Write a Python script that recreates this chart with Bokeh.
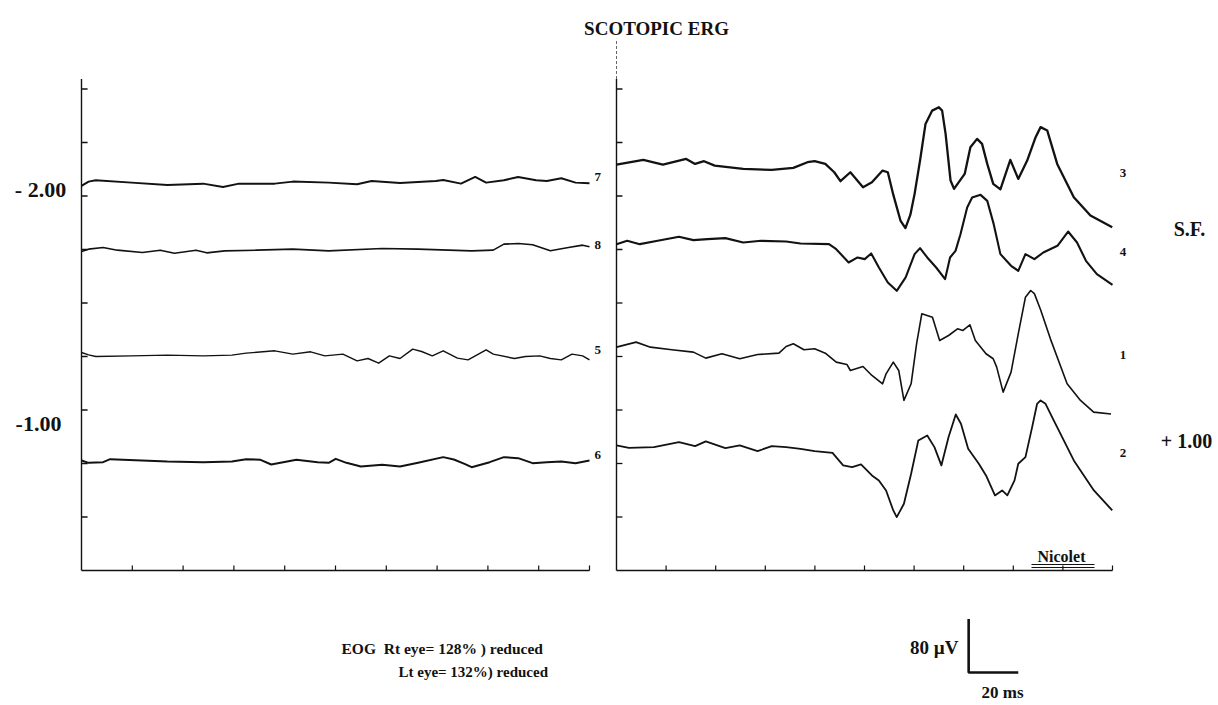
from bokeh.plotting import figure
from bokeh.models import Range1d
from bokeh.embed import file_html
from bokeh.resources import INLINE
from bokeh.core.properties import value

# ---------------- data (time in ms, amplitude in microvolts) ----------------
# Left panel traces (flat responses), amplitude relative to each trace baseline
t_7 = [0, 2.8, 5.6, 19.7, 33.8, 47.9, 55.7, 62.0, 76.1, 83.2, 97.3, 108.5, 114.2, 125.4,
       139.5, 142.4, 149.4, 155.0, 159.3, 166.3, 171.9, 179.0, 183.2, 188.9, 194.5, 200]
v_7 = [-5.0, 1.5, 3.5, 0, -3.5, -1.5, -6.5, -1.5, -1.5, 1.5, 0, -2.5, 2.5, -0.5,
       2.5, 4.0, -1.5, 8.5, 0, 3.5, 8.5, 3.5, 2.5, 6.5, 0, -1.0]

t_8 = [0, 2.8, 8.5, 14.1, 24.0, 31.0, 36.6, 45.1, 49.3, 56.4, 69.1, 83.2, 97.3, 118.4,
       132.5, 153.6, 162.1, 166.3, 172.0, 177.6, 184.6, 191.7, 197.3, 200]
v_8 = [-1.0, 2.5, 5.0, 1.0, -2.5, 1.0, -3.5, 1.0, -3.0, 0, 1.0, 2.5, 0, 3.5,
       2.5, 0, 1.0, 10.0, 11.0, 9.0, 0, 5.0, 8.5, 6.0]

t_5 = [0, 2.8, 5.6, 19.7, 33.8, 47.9, 59.2, 64.8, 76.1, 83.2, 90.2, 95.8, 102.9, 108.5,
       112.8, 117.0, 121.2, 125.4, 130.4, 133.9, 138.1, 142.4, 148.0, 152.2, 159.3, 162.1,
       170.5, 174.8, 180.4, 184.6, 188.9, 193.1, 197.3, 200]
v_5 = [5.0, 1.5, -1.0, 0, 1.0, 0, 1.0, 4.0, 7.5, 2.5, 6.0, 0, 2.5, -7.5,
       -4.0, -11.0, 0, -4.0, 10.0, 6.5, 0, 7.5, -3.5, -6.0, 9.0, 2.5,
       -4.0, -1.0, 0, -4.0, -6.0, 2.5, 0, -6.0]

t_6 = [0, 2.8, 8.5, 11.3, 33.8, 47.9, 59.2, 64.8, 70.5, 74.7, 84.6, 93.0, 97.3, 100.1,
       104.3, 110.0, 118.4, 125.4, 132.5, 142.4, 146.6, 150.8, 153.6, 160.7, 166.3, 171.9,
       177.6, 183.2, 188.9, 194.5, 200]
v_6 = [1.5, -2.0, -1.0, 3.5, 0, -1.0, 0, 3.5, 2.5, -4.5, 2.5, -1.0, -2.0, 4.0,
       -2.0, -7.5, -5.0, -7.5, -2.0, 6.5, 3.0, -3.5, -8.5, -1.0, 6.5, 5.0,
       -2.5, -1.0, 0, -2.5, 1.5]

# Right panel traces (ERG waveforms)
t_3 = [0, 10.8, 18.7, 28.1, 31.7, 35.3, 39.6, 51.1, 62.6, 71.3, 77.0, 79.9, 84.2, 87.8,
       90.3, 94.3, 99.4, 103.0, 107.3, 109.4, 111.6, 114.5, 116.5, 118.5, 120.2, 122.4,
       124.6, 127.3, 130.0, 131.3, 132.7, 134.7, 136.1, 140.4, 142.7, 145.4, 147.4, 149.5,
       151.9, 154.8, 158.8, 162.0, 165.6, 169.0, 171.0, 173.7, 177.7, 184.4, 191.1, 199.9]
v_3 = [0, 7.0, 0, 8.5, 1.0, 5.0, -1.5, -6.5, -8.0, -5.0, 3.5, 5.0, 1.0, -11.5,
       -24.9, -11.5, -33.9, -26.4, -9.0, -11.5, -45.0, -83.7, -95.0, -75.0, -43.8, 6.0,
       60.8, 80.7, 85.7, 80.7, 45.9, -23.9, -36.4, -14.0, 25.9, 38.4, 30.9, 1.0,
       -28.9, -37.0, 7.0, -21.4, 6.0, 40.9, 56.0, 50.8, 1.0, -48.8, -76.2, -93.7]

t_4 = [0, 4.3, 9.4, 16.6, 25.2, 31.0, 36.7, 43.9, 51.1, 58.3, 68.4, 74.2, 85.7, 88.6,
       93.6, 97.2, 100.1, 102.7, 105.8, 109.4, 113.0, 116.6, 120.2, 122.4, 125.3, 128.9,
       132.5, 134.5, 136.7, 138.7, 141.4, 143.4, 146.8, 149.5, 152.1, 154.8, 159.1, 162.0,
       164.9, 168.5, 172.1, 177.8, 182.1, 185.7, 189.3, 193.7, 200]
v_4 = [0, 5.0, 0, 5.0, 11.0, 6.0, 7.5, 9.0, 2.5, 5.0, 4.0, 1.0, 0, -7.5,
       -27.4, -19.9, -22.4, -13.9, -34.9, -57.3, -69.8, -49.8, -14.9, -6.0, -19.9, -34.9,
       -52.3, -19.9, -10.0, 14.9, 54.7, 69.7, 73.7, 64.7, 29.9, -14.9, -32.4, -39.9,
       -14.9, -22.4, -12.5, -2.5, 18.9, 2.5, -24.9, -44.8, -60.8]

t_1 = [0, 7.9, 13.7, 22.3, 31.0, 36.0, 42.5, 49.7, 56.9, 65.5, 68.4, 71.3, 75.6, 79.9,
       84.2, 88.6, 92.9, 94.3, 99.4, 103.0, 107.3, 108.7, 111.6, 113.8, 115.9, 118.8,
       121.0, 123.1, 127.4, 130.3, 133.9, 137.5, 139.7, 142.5, 144.7, 149.0, 151.9, 153.3,
       155.9, 159.1, 162.0, 164.9, 167.0, 168.5, 171.0, 175.0, 181.7, 187.1, 192.4, 199.4]
v_1 = [0, 7.5, 0, -4.0, -7.5, -16.4, -10.0, -17.4, -11.0, -9.0, 1.0, 5.0, -4.0, -2.5,
       -9.0, -22.4, -25.9, -34.9, -28.9, -42.4, -54.8, -39.9, -22.4, -34.9, -79.7, -54.8,
       5.0, 49.8, 44.8, 9.9, 17.4, 27.4, 24.9, 33.4, 9.9, -9.9, -17.4, -29.9,
       -67.3, -37.4, 19.9, 74.7, 84.7, 80.0, 56.0, 12.0, -54.8, -79.7, -97.2, -100.0]

t_2 = [0, 5.0, 15.1, 25.2, 31.7, 36.0, 43.9, 49.7, 56.9, 62.6, 68.4, 74.2, 79.9, 87.1,
       91.4, 95.0, 98.6, 103.0, 105.8, 108.7, 111.6, 113.0, 115.9, 118.8, 121.7, 125.3,
       128.2, 131.0, 133.9, 136.8, 138.9, 141.8, 146.1, 149.0, 152.6, 155.5, 157.6, 160.5,
       162.0, 164.9, 167.6, 169.6, 171.0, 173.0, 176.3, 184.4, 192.5, 199.9]
v_2 = [0, -3.5, -2.5, 5.0, -1.0, 6.0, -4.0, 0, -8.5, -1.0, -2.5, -5.0, -8.5, -11.0,
       -29.9, -32.4, -28.4, -44.8, -52.3, -67.3, -97.2, -107.1, -87.2, -42.4, 7.5, 14.9,
       -2.5, -29.9, 12.5, 46.3, 32.4, -5.0, -27.4, -44.8, -74.7, -67.3, -74.7, -52.3,
       -27.4, -17.4, 27.4, 62.3, 67.3, 62.3, 37.4, -22.4, -67.3, -97.2]

left_labels = ["7", "8", "5", "6"]
left_base = [580, 478, 321, 163]
right_labels = ["3", "4", "1", "2"]
right_base = [607, 488, 334, 187]

x_ticks = [20, 40, 60, 80, 100, 120, 140, 160, 180, 200]
y_ticks = [80, 160, 240, 320, 400, 480, 560, 640, 720]

left_series = [(t_7, v_7), (t_8, v_8), (t_5, v_5), (t_6, v_6)]
right_series = [(t_3, v_3), (t_4, v_4), (t_1, v_1), (t_2, v_2)]

# ---------------- layout geometry (page pixels) ----------------
W, H = 1218, 705
L_X0, L_X1 = 81, 589
R_X0, R_X1 = 616, 1112
Y0_PX = 570
PX_PER_UV = 53.5 / 80.0
T_SPAN = 200.0


def panel_xrange(x0, x1):
    k = (x1 - x0) / T_SPAN
    return Range1d(start=-x0 / k, end=(W - x0) / k)


p = figure(width=W, height=H, x_range=Range1d(0, W), y_range=Range1d(H, 0),
           output_backend="svg", toolbar_location=None, min_border=0,
           x_axis_location=None, y_axis_location=None,
           background_fill_color="white", border_fill_color="white")
p.extra_x_ranges = {"L": panel_xrange(L_X0, L_X1), "R": panel_xrange(R_X0, R_X1)}
p.extra_y_ranges = {"uV": Range1d(start=-(H - Y0_PX) / PX_PER_UV, end=Y0_PX / PX_PER_UV)}
p.xgrid.visible = False
p.ygrid.visible = False
p.outline_line_color = None

INK = "#121212"
SERIF = value("Liberation Serif")

# ---------------- panel frames ----------------
TOP = 735
tick_len_t = 2.4   # ms
tick_len_v = 7.5   # uV
for rng in ("L", "R"):
    p.segment(x0=[0, 0], y0=[0, 0], x1=[0, T_SPAN], y1=[TOP, 0],
              x_range_name=rng, y_range_name="uV", line_color=INK, line_width=1.4)
    p.segment(x0=[0] * len(y_ticks), y0=y_ticks, x1=[tick_len_t] * len(y_ticks), y1=y_ticks,
              x_range_name=rng, y_range_name="uV", line_color=INK, line_width=1.3)
    p.segment(x0=x_ticks, y0=[0] * len(x_ticks), x1=x_ticks, y1=[tick_len_v] * len(x_ticks),
              x_range_name=rng, y_range_name="uV", line_color=INK, line_width=1.2)
# faint upper extension of the right panel axis
p.segment(x0=[0], y0=[TOP], x1=[0], y1=[TOP + 60], x_range_name="R", y_range_name="uV",
          line_color="#666666", line_width=1, line_dash="3 2")

# ---------------- traces ----------------
left_w = [2.0, 1.6, 1.4, 2.0]
right_w = [2.3, 2.1, 1.6, 1.8]
for (t, v), b, w in zip(left_series, left_base, left_w):
    p.line(x=t, y=[b + a for a in v], x_range_name="L", y_range_name="uV",
           line_color=INK, line_width=w, line_join="round")
for (t, v), b, w in zip(right_series, right_base, right_w):
    p.line(x=t, y=[b + a for a in v], x_range_name="R", y_range_name="uV",
           line_color=INK, line_width=w, line_join="round")

# trace numbers
p.text(x=[T_SPAN + 3.2] * 4, y=[b + 9 for b in left_base], text=left_labels,
       x_range_name="L", y_range_name="uV", text_font=SERIF, text_font_style="bold",
       text_font_size="13px", text_align="center", text_baseline="middle", text_color=INK)
p.text(x=[T_SPAN + 4.2] * 4, y=[b - 12 for b in right_base], text=right_labels,
       x_range_name="R", y_range_name="uV", text_font=SERIF, text_font_style="bold",
       text_font_size="13px", text_align="center", text_baseline="middle", text_color=INK)

# scale bar: 80 uV x 20 ms
SB_T, SB_V = 142.0, -152.5
p.line(x=[SB_T, SB_T, SB_T + 20], y=[SB_V + 80, SB_V, SB_V], x_range_name="R",
       y_range_name="uV", line_color=INK, line_width=2.6)

# ---------------- page texts ----------------
def txt(x, y, s, size, align="center"):
    p.text(x=[x], y=[y], text=[s], text_font=SERIF, text_font_style="bold",
           text_font_size=size, text_align=align, text_baseline="middle", text_color=INK)

txt(656, 28, "SCOTOPIC ERG", "19px")
txt(40, 189, "- 2.00", "22px")
txt(38, 423, "-1.00", "22px")
txt(1189, 228, "S.F.", "20px")
txt(1186, 440, "+ 1.00", "20px")
txt(341, 648, "EOG\u00a0\u00a0Rt eye= 128% ) reduced", "15.5px", "left")
txt(398, 671, "Lt eye= 132%) reduced", "15px", "left")
txt(958, 647, "80 \u00b5V", "19px", "right")
txt(1002, 692, "20 ms", "17px")
txt(1061, 556, "Nicolet", "16px")
p.segment(x0=[1031, 1031], y0=[564, 567], x1=[1094, 1094], y1=[564, 567],
          line_color=INK, line_width=1)

open("out.html", "w").write(file_html(p, INLINE))
